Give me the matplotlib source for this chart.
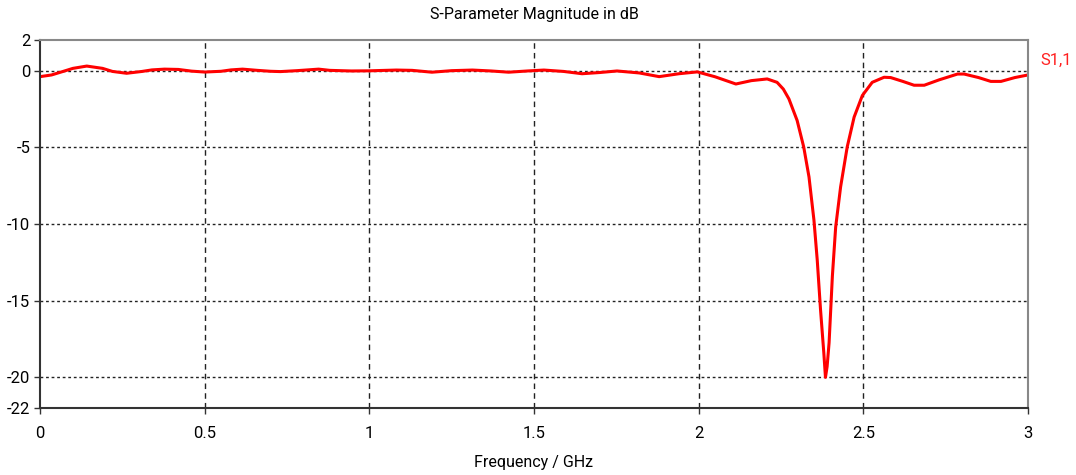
import numpy as np
import matplotlib.pyplot as plt

plt.rcParams['font.family'] = ['Roboto', 'DejaVu Sans']

# S1,1 magnitude
freq_ghz = [0.00, 0.035, 0.07, 0.10, 0.142, 0.19, 0.22, 0.263, 0.31, 0.34,
            0.378, 0.42, 0.46, 0.50, 0.55, 0.58, 0.615, 0.66, 0.70, 0.73,
            0.78, 0.846, 0.88, 0.945, 1.00, 1.082, 1.13, 1.19, 1.25, 1.313,
            1.37, 1.423, 1.48, 1.53, 1.59, 1.646, 1.70, 1.752, 1.82, 1.88,
            1.94, 1.996, 2.05, 2.113, 2.16, 2.208, 2.238, 2.257, 2.274, 2.299,
            2.319, 2.335, 2.35, 2.36, 2.37, 2.38, 2.385, 2.39, 2.396, 2.406,
            2.416, 2.431, 2.451, 2.472, 2.497, 2.527, 2.563, 2.583, 2.62, 2.654,
            2.685, 2.73, 2.786, 2.806, 2.85, 2.887, 2.918, 2.96, 3.00]
s11_db = [-0.39, -0.28, -0.05, 0.15, 0.30, 0.15, -0.05, -0.17, -0.05, 0.05,
          0.10, 0.08, -0.03, -0.09, -0.04, 0.05, 0.10, 0.02, -0.04, -0.06,
          0.00, 0.10, 0.02, -0.02, -0.01, 0.04, 0.02, -0.10, 0.00, 0.04,
          -0.02, -0.10, -0.02, 0.04, -0.05, -0.20, -0.12, -0.02, -0.15, -0.39,
          -0.20, -0.08, -0.40, -0.87, -0.65, -0.54, -0.76, -1.20, -1.84, -3.25,
          -4.98, -6.93, -9.74, -12.34, -15.58, -18.4, -20.0, -19.3, -17.75, -13.4,
          -10.2, -7.58, -4.98, -3.03, -1.62, -0.76, -0.43, -0.45, -0.70, -0.95,
          -0.95, -0.60, -0.22, -0.22, -0.45, -0.70, -0.70, -0.45, -0.28]

x_ticks = [0, 0.5, 1, 1.5, 2, 2.5, 3]
x_labels = ["0", "0.5", "1", "1.5", "2", "2.5", "3"]
y_ticks = [2, 0, -5, -10, -15, -20, -22]

fig = plt.figure(figsize=(10.76, 4.75), dpi=100)
ax = fig.add_axes([40 / 1076, 1 - 408 / 475, 988 / 1076, 368 / 475])

ax.plot(freq_ghz, s11_db, color="#ff0000", lw=2.2, solid_joinstyle="round")

ax.set_xlim(0, 3)
ax.set_ylim(-22, 2)
ax.set_xticks(x_ticks)
ax.set_xticklabels(x_labels)
ax.set_yticks(y_ticks)
ax.set_yticklabels([str(v) for v in y_ticks])

# grid: vertical dashed, horizontal dotted
for xv in x_ticks[1:-1]:
    ax.axvline(xv, color="#222222", lw=1, ls=(0, (4, 3)), zorder=0)
for yv in [0, -5, -10, -15, -20]:
    ax.axhline(yv, color="#222222", lw=1, ls=(0, (2, 2)), zorder=0)

for side in ["top", "right"]:
    ax.spines[side].set_color("#888888")
    ax.spines[side].set_linewidth(1.5)
for side in ["left", "bottom"]:
    ax.spines[side].set_color("#333333")
    ax.spines[side].set_linewidth(1.5)

ax.tick_params(axis="both", direction="out", length=4, width=1,
               color="#333333", labelsize=12, pad=3)
ax.tick_params(axis="x", pad=9)

fig.text(534 / 1076, 1 - 15 / 475, "S-Parameter Magnitude in dB",
         ha="center", va="center", fontsize=11.5)
fig.text(534 / 1076, 1 - 463 / 475, "Frequency / GHz",
         ha="center", va="center", fontsize=11.5)
fig.text(1040 / 1076, 1 - 60 / 475, "S1,1", color="#ff2020",
         ha="left", va="center", fontsize=12)

fig.savefig("out.png", dpi=100)
